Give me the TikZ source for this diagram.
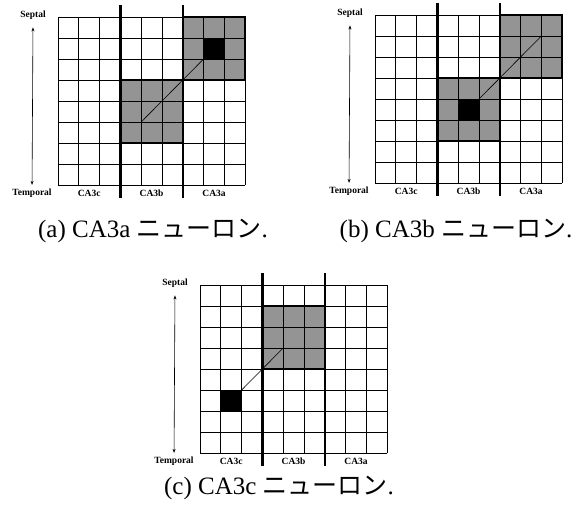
\documentclass[tikz,border=0pt]{standalone}
\usepackage{fontspec}
\setmainfont{Liberation Serif}
\newfontfamily\jpfont{Noto Sans CJK JP}
\usetikzlibrary{positioning,arrows.meta}

\begin{document}
\begin{tikzpicture}[
  x=1pt, y=1pt,
  cell/.style={x=20.8pt, y=21pt},
  gridline/.style={line width=0.9pt, step=1},
  divider/.style={line width=2.3pt},
  blockedge/.style={line width=2pt},
  hatched/.style={fill=black!42},
  soma/.style={fill=black},
  axon/.style={line width=0.6pt},
  axisarrow/.style={<->, >={Stealth[length=4pt,width=3pt]}, line width=0.6pt},
  poslabel/.style={font=\fontsize{9.5}{10}\selectfont\bfseries, inner sep=1pt},
  regionlabel/.style={font=\fontsize{9.5}{10}\selectfont\bfseries, inner sep=1pt},
  caption/.style={font=\fontsize{25}{27}\selectfont, inner sep=0pt}
]
\useasboundingbox (0,0) rectangle (577,506);

% (a) CA3a neuron
\begin{scope}[shift={(58,321)}, cell]
  \fill [hatched] (6,5) rectangle (9,8);
  \fill [hatched] (3,2) rectangle (6,5);
  \fill [soma] (7,6) rectangle (8,7);
  \draw [gridline] (0,0) grid (9,8);
  \draw [axon] (4,3) -- (7,6);
  \draw [blockedge] (6,5) rectangle (9,8);
  \draw [blockedge] (3,2) rectangle (6,5);
  \draw [divider] (3,-0.6) -- (3,8.57);
  \draw [divider] (6,-0.6) -- (6,8.57);
  \foreach \r/\x in {c/1.5, b/4.5, a/7.5}
    \node (reg\r A) [regionlabel] at (\x,-0.4) {CA3\r};
  \node (septA) [poslabel] at (-1.2,8.1) {Septal};
  \node (tempA) [poslabel] at (-1.25,-0.4) {Temporal};
  \draw [axisarrow, shorten <=7pt, shorten >=3pt] (septA) -- (tempA);
\end{scope}
\node (capA) [caption] at (153,275) {(a) CA3a {\jpfont ニューロン}.};

% (b) CA3b neuron
\begin{scope}[shift={(375,323)}, cell]
  \fill [hatched] (6,5) rectangle (9,8);
  \fill [hatched] (3,2) rectangle (6,5);
  \fill [soma] (4,3) rectangle (5,4);
  \draw [gridline] (0,0) grid (9,8);
  \draw [axon] (5,4) -- (8,7);
  \draw [blockedge] (6,5) rectangle (9,8);
  \draw [blockedge] (3,2) rectangle (6,5);
  \draw [divider] (3,-0.6) -- (3,8.57);
  \draw [divider] (6,-0.6) -- (6,8.57);
  \foreach \r/\x in {c/1.5, b/4.5, a/7.5}
    \node (reg\r B) [regionlabel] at (\x,-0.4) {CA3\r};
  \node (septB) [poslabel] at (-1.2,8.1) {Septal};
  \node (tempB) [poslabel] at (-1.25,-0.4) {Temporal};
  \draw [axisarrow, shorten <=7pt, shorten >=3pt] (septB) -- (tempB);
\end{scope}
\node (capB) [caption] at (456,275) {(b) CA3b {\jpfont ニューロン}.};

% (c) CA3c neuron
\begin{scope}[shift={(200,53)}, cell]
  \fill [hatched] (3,4) rectangle (6,7);
  \fill [soma] (1,2) rectangle (2,3);
  \draw [gridline] (0,0) grid (9,8);
  \draw [axon] (2,3) -- (4,5);
  \draw [blockedge] (3,4) rectangle (6,7);
  \draw [divider] (3,-0.6) -- (3,8.57);
  \draw [divider] (6,-0.6) -- (6,8.57);
  \foreach \r/\x in {c/1.5, b/4.5, a/7.5}
    \node (reg\r C) [regionlabel] at (\x,-0.4) {CA3\r};
  \node (septC) [poslabel] at (-1.2,8.1) {Septal};
  \node (tempC) [poslabel] at (-1.25,-0.4) {Temporal};
  \draw [axisarrow, shorten <=7pt, shorten >=3pt] (septC) -- (tempC);
\end{scope}
\node (capC) [caption] at (279,18) {(c) CA3c {\jpfont ニューロン}.};

\end{tikzpicture}
\end{document}
